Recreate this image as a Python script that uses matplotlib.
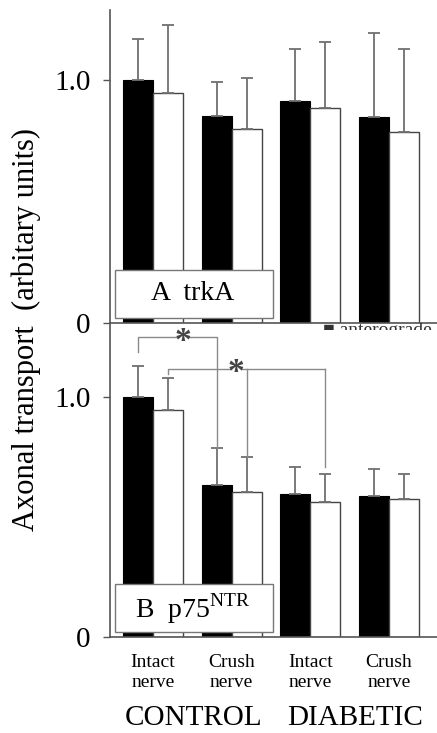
import matplotlib
matplotlib.use("Agg")
import matplotlib.pyplot as plt
from matplotlib.patches import Rectangle
import numpy as np

plt.rcParams['font.family'] = ['Liberation Serif', 'DejaVu Serif']

groups = ["Intact\nnerve", "Crush\nnerve", "Intact\nnerve", "Crush\nnerve"]
conditions = ["CONTROL", "DIABETIC"]

trka_antero = [1.00, 0.855, 0.913, 0.847]
trka_antero_err = [0.17, 0.14, 0.215, 0.35]
trka_retro = [0.946, 0.80, 0.888, 0.789]
trka_retro_err = [0.284, 0.21, 0.27, 0.34]

p75_antero = [1.00, 0.636, 0.598, 0.59]
p75_antero_err = [0.13, 0.154, 0.113, 0.109]
p75_retro = [0.946, 0.607, 0.565, 0.577]
p75_retro_err = [0.134, 0.146, 0.117, 0.105]

fig = plt.figure(figsize=(4.37, 7.33), dpi=100)
ax1 = fig.add_axes([0.2517, 0.5593, 0.7483, 0.4271])
ax2 = fig.add_axes([0.2517, 0.1310, 0.7483, 0.4283])

x = np.arange(len(groups))
w = 0.38
spine_c = '#555555'
err_c = '#707070'


def panel(ax, a, ae, r, re_, ytop, label_main, label_sup):
    ekw = dict(ecolor=err_c, elinewidth=1.3, capsize=4, capthick=1.3)
    ax.bar(x - w / 2, a, w, color='black', edgecolor='black', linewidth=0.8,
           yerr=[np.zeros(len(a)), ae], error_kw=ekw, zorder=2)
    ax.bar(x + w / 2, r, w, color='white', edgecolor='#444444', linewidth=1.0,
           yerr=[np.zeros(len(r)), re_], error_kw=ekw, zorder=2)
    ax.set_xlim(-0.547, 3.61)
    ax.set_ylim(0, ytop)
    ax.set_yticks([0, 1.0])
    ax.set_yticklabels(['0', '1.0'], fontsize=21)
    ax.tick_params(axis='y', direction='out', length=5, width=1, color=spine_c, pad=9)
    for s in ['top', 'right']:
        ax.spines[s].set_visible(False)
    for s in ['left', 'bottom']:
        ax.spines[s].set_color(spine_c)
        ax.spines[s].set_linewidth(1.2)
    ax.set_facecolor('none')
    # label box
    ax.add_patch(Rectangle((-0.48, 0.02), 2.01, 0.20, facecolor='white',
                           edgecolor='#777777', linewidth=1.0, zorder=5))
    ax.text(0.50, 0.12, label_main + (r'$^{\mathregular{' + label_sup + '}}$' if label_sup else ''),
            fontsize=20, ha='center', va='center', zorder=6)


panel(ax1, trka_antero, trka_antero_err, trka_retro, trka_retro_err, 1.29, "A  trkA", None)
panel(ax2, p75_antero, p75_antero_err, p75_retro, p75_retro_err, 1.31, "B  p75", "NTR")

ax1.set_xticks([])
ax2.set_xticks(x)
ax2.set_xticklabels(groups, fontsize=14, linespacing=1.25)
ax2.tick_params(axis='x', length=0, pad=12)

# significance brackets (panel B)
bc = '#8a8a8a'
xa0, xa1 = x[0] - w / 2, x[1] - w / 2
ax2.plot([xa0, xa0, 0.31], [1.19, 1.25, 1.25], color=bc, lw=1.0, zorder=3)
ax2.plot([0.45, xa1, xa1], [1.25, 1.25, 0.79], color=bc, lw=1.0, zorder=3)
ax2.text(0.38, 1.235, '*', fontsize=24, ha='center', va='center', color='#444444',
         fontweight='bold')
xr0, xr1, xr2 = x[0] + w / 2, x[1] + w / 2, x[2] + w / 2
ax2.plot([xr0, xr0, 0.99], [1.096, 1.12, 1.12], color=bc, lw=1.0, zorder=3)
ax2.plot([1.12, xr2], [1.12, 1.12], color=bc, lw=1.0, zorder=3)
ax2.plot([xr1, xr1], [1.12, 0.753], color=bc, lw=1.0, zorder=3)
ax2.plot([xr2, xr2], [1.12, 0.711], color=bc, lw=1.0, zorder=3)
ax2.text(1.055, 1.105, '*', fontsize=24, ha='center', va='center', color='#444444',
         fontweight='bold')

# partially hidden legend
ax2.text(2.16, 1.28, '\u25a0 anterograde', fontsize=14, ha='left', va='center', zorder=4,
         clip_on=True, color='#333333')
ax2.add_patch(Rectangle((2.05, 1.128), 1.6, 0.152, facecolor='white', edgecolor='none', zorder=4.5))

# condition labels
fig.text(0.442, 0.021, conditions[0], fontsize=21, ha='center', va='center')
fig.text(0.812, 0.021, conditions[1], fontsize=21, ha='center', va='center')

fig.text(0.06, 0.55, 'Axonal transport  (arbitary units)', fontsize=22, rotation=90,
         ha='center', va='center')

fig.savefig('out.png', dpi=100)
